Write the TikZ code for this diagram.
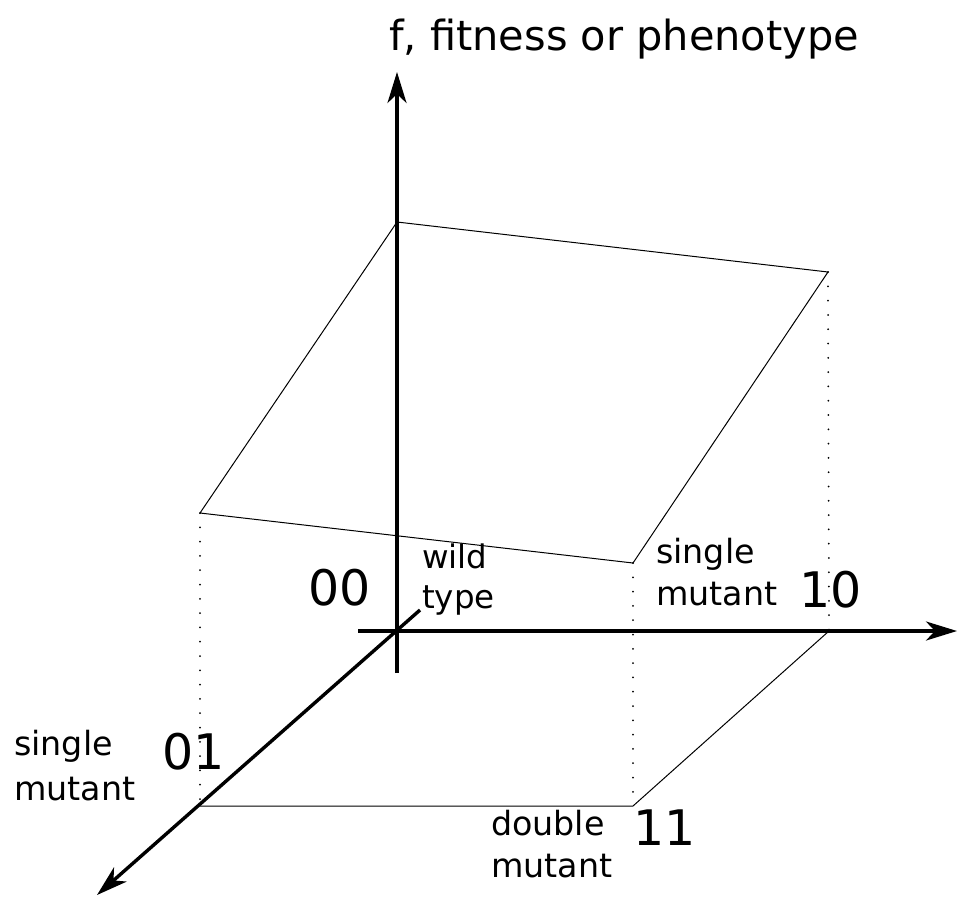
\documentclass[tikz,border=0pt]{standalone}
\usepackage{fontspec}
\setmainfont{DejaVu Sans}
\usetikzlibrary{arrows.meta}
\begin{document}
\begin{tikzpicture}[x=1pt,y=-1pt,
  axis/.style={line width=3.4pt,-{Stealth[length=31pt,width=19pt,inset=9pt]}},
  edge/.style={line width=1pt, line join=miter},
  drop/.style={line width=2pt, line cap=round, dash pattern=on 0pt off 14.3pt, black},
  big/.style={font=\fontsize{49}{49}\selectfont, inner sep=0pt},
  lbl/.style={align=left, inner sep=0pt, anchor=north west}]
\useasboundingbox (0,0) rectangle (959,898);
% axis points
\coordinate (O) at (397,631);
\coordinate (vbot) at (397,673);
\coordinate (vtop) at (397,72);
\coordinate (hleft) at (358,631);
\coordinate (hright) at (957,631);
\coordinate (dstart) at (420,610);
\coordinate (dend) at (97,895);
% top surface
\coordinate (t00) at (397,222);
\coordinate (t10) at (828,272);
\coordinate (t11) at (633,563);
\coordinate (t01) at (200,513);
% base points
\coordinate (b10) at (829,631);
\coordinate (b11) at (633,806);
\coordinate (b01) at (200,806);
% surface and base
\draw[edge] (t00) -- (t10) -- (t11) -- (t01) -- cycle;
\draw[edge] (b01) -- (b11) -- (b10);
% dotted drop lines
\draw[drop] (t01) -- (b01);
\draw[drop] (t11) -- (b11);
\draw[drop] (t10) -- (b10);
% axes
\draw[axis] (vbot) -- (vtop);
\draw[axis] (hleft) -- (hright);
\draw[axis] (dstart) -- (dend);
% labels
\node[anchor=base west, inner sep=0pt, font=\fontsize{41.5}{41.5}\selectfont] (ftitle) at (389,50) {f, fitness or phenotype};
\node[big] (n00) at (340,588) {00};
\node[big] (n10) at (831,590) {10};
\node[big] (n01) at (194,752) {01};
\node[big] (n11) at (665,828) {11};
\node[lbl, font=\fontsize{32.5}{40}\selectfont] (wt) at (422,544) {wild\\type};
\node[lbl, font=\fontsize{33.3}{42}\selectfont] (sm1) at (656,538) {single\\mutant};
\node[lbl, font=\fontsize{33.3}{45}\selectfont] (sm2) at (14,730) {single\\mutant};
\node[lbl, font=\fontsize{33.3}{42}\selectfont] (dm) at (491,810) {double\\mutant};
\end{tikzpicture}
\end{document}
